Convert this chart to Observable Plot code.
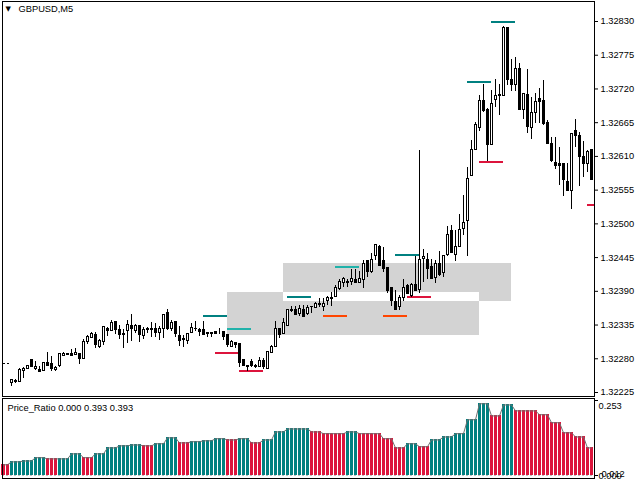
<!DOCTYPE html>
<html>
<head>
<meta charset="utf-8">
<script src="https://cdn.jsdelivr.net/npm/d3@7"></script>
<script src="https://cdn.jsdelivr.net/npm/@observablehq/plot@0.6"></script>
<style>
html,body{margin:0;padding:0;background:#fff;}
svg{display:block;}
</style>
</head>
<body>
<div id="chart"></div>
<script>
// Prices are given in points (1e-5) above 1.32000
const priceBase = 1.32;
const highs = [246,246,264,266,269,278,275,267,273,290,284,267,288,290,289,295,296,289,311,318,323,323,311,331,331,342,341,334,327,342,352,336,335,331,331,339,337,333,352,360,342,341,333,318,321,338,340,330,341,323,323,325,330,325,320,310,307,304,278,268,279,271,282,280,291,302,341,329,345,361,365,365,367,367,367,365,371,378,378,381,388,400,409,413,410,425,425,422,440,440,451,466,465,461,428,397,391,383,409,401,402,446,620,458,451,442,441,455,449,496,498,489,515,546,592,636,665,709,727,688,717,735,727,822,819,768,772,761,712,752,706,712,720,734,668,641,641,625,598,598,647,671,649,634,620,621];
const lows = [234,240,242,248,263,267,261,257,260,267,260,259,265,284,285,284,285,271,279,303,313,296,296,302,316,326,320,311,297,305,308,321,306,312,322,314,314,309,313,326,325,314,300,299,303,321,325,317,318,315,314,319,320,310,298,298,297,266,268,260,265,264,266,262,263,289,299,313,320,333,355,351,349,348,351,354,362,364,357,367,366,380,391,396,396,399,404,402,395,413,419,441,430,421,387,365,359,358,373,385,380,391,386,405,410,410,403,414,413,447,452,439,462,481,447,578,620,651,682,602,628,690,677,708,726,716,716,686,670,647,638,663,663,661,629,600,589,562,545,554,523,625,561,575,583,571];
const opens = [240,242,242,260,263,278,263,261,260,273,271,261,268,285,286,288,286,288,279,307,314,319,300,307,329,326,340,327,321,325,334,325,334,317,329,329,329,322,328,354,329,340,317,312,309,322,328,327,327,322,322,323,321,323,318,299,305,304,278,268,274,269,267,277,263,289,299,328,320,334,360,360,353,360,353,365,363,370,364,374,379,380,393,403,406,405,409,404,409,440,421,448,463,440,428,396,373,364,379,398,382,401,392,442,441,429,411,435,420,449,489,449,462,492,505,578,620,657,701,686,629,702,708,708,819,734,726,752,685,710,657,680,703,701,665,631,600,597,598,569,553,651,644,609,597,620];
const closes = [246,243,261,264,269,267,267,258,273,269,263,265,288,287,287,285,290,279,308,315,321,302,309,331,325,339,327,318,318,335,328,333,318,327,327,327,322,329,352,328,339,320,309,311,321,330,329,323,318,321,321,321,321,316,302,308,302,273,268,266,269,266,277,267,291,299,329,318,339,360,358,351,361,348,363,364,370,367,370,379,377,396,405,410,403,410,404,410,435,421,441,465,432,426,390,375,359,379,396,385,401,391,441,446,427,410,435,417,448,482,452,463,490,502,573,621,662,701,684,628,696,709,710,819,734,726,752,686,712,658,680,699,699,663,631,602,594,594,571,554,647,643,609,597,618,572];

const priceTicks = [1.32225,1.3228,1.32335,1.3239,1.32445,1.325,1.32555,1.3261,1.32665,1.3272,1.32775,1.3283];

// Grey zones: bar index range and price range (points)
const zoneStart = [54,68,68,117];
const zoneEnd = [68,117,117,125];
const zoneTop = [388,435,373,435];
const zoneBottom = [318,388,318,373];

// Short horizontal levels
const levelStart = [48,69,96,114,120,54,81,51,57,99,117,144,78,93];
const levelEnd = [54,75,102,120,126,60,87,57,63,105,123,146,84,99];
const levelPrice = [349,380,450,731,830,329,429,289,260,380,601,530,349,349];
const levelColor = ["#008080","#008080","#008080","#008080","#008080","#20B2AA","#20B2AA","#DC143C","#DC143C","#DC143C","#DC143C","#DC143C","#FF4500","#FF4500"];

// Indicator: one value per bar, bars -2 .. 145
const ratioValues = [0.036,0.036,
0.046,0.046,0.046,0.049,0.049,0.049,0.060,0.060,0.060,0.056,0.056,0.056,0.056,0.056,0.056,0.073,0.073,0.073,
0.060,0.060,0.060,0.073,0.073,0.073,0.093,0.093,0.093,0.100,0.100,0.100,0.103,0.103,0.103,0.100,0.100,0.100,
0.107,0.107,0.107,0.127,0.127,0.127,0.110,0.110,0.110,0.114,0.114,0.114,0.117,0.117,0.117,0.124,0.124,0.124,
0.120,0.120,0.120,0.124,0.124,0.124,0.110,0.110,0.110,0.120,0.120,0.120,0.147,0.147,0.147,
0.157,0.157,0.157,0.157,0.157,0.157,0.147,0.147,0.147,
0.141,0.141,0.141,0.141,0.141,0.141,0.147,0.147,0.147,0.141,0.141,0.141,0.141,0.141,0.141,
0.124,0.124,0.124,0.093,0.093,0.093,0.107,0.107,0.107,0.097,0.097,0.097,0.120,0.120,0.120,
0.130,0.130,0.130,0.141,0.141,0.141,0.188,0.188,0.188,0.242,0.242,0.242,0.201,0.201,0.201,0.238,0.238,0.238,
0.218,0.218,0.218,0.218,0.218,0.218,0.205,0.205,0.205,0.178,0.178,0.178,0.144,0.144,0.144,0.130,0.130,0.130,0.093,0.093];
const ratioRuns = [[2,"d"],[3,"u"],[3,"u"],[3,"u"],[3,"d"],[3,"u"],[3,"u"],[3,"d"],[3,"u"],[3,"u"],[3,"u"],[3,"u"],[3,"d"],[3,"u"],[3,"u"],[3,"d"],[3,"u"],[3,"u"],[3,"u"],[3,"d"],[3,"u"],[3,"d"],[3,"u"],[3,"u"],[6,"u"],[3,"d"],[6,"d"],[3,"u"],[6,"d"],[3,"d"],[3,"d"],[3,"u"],[3,"d"],[3,"u"],[3,"u"],[3,"u"],[3,"u"],[3,"u"],[3,"d"],[3,"u"],[6,"d"],[3,"d"],[3,"d"],[3,"d"],[3,"d"],[2,"d"]];
const ratioTicks = [0,0.253];
const ratioTopLabel = 0.253;
const ratioLowLabel = 0.012;
const ratioZeroLabel = 0;

const font = "'Liberation Sans', sans-serif";
const fs = 9.3;
const ink = "#000";
const xDomain = [-2.25, 145.75];
const toPrice = p => priceBase + p * 1e-5;

const candles = d3.range(highs.length).map(i => ({
  i, h: toPrice(highs[i]), l: toPrice(lows[i]), o: toPrice(opens[i]), c: toPrice(closes[i]),
  top: toPrice(Math.max(opens[i], closes[i])), bot: toPrice(Math.min(opens[i], closes[i])),
  up: closes[i] >= opens[i]
}));
const zones = zoneStart.map((s, k) => ({x1: s, x2: zoneEnd[k], y1: toPrice(zoneBottom[k]), y2: toPrice(zoneTop[k])}));
const levels = levelStart.map((s, k) => ({x1: s, x2: levelEnd[k], y: toPrice(levelPrice[k]), color: levelColor[k]}));
const ratioFlags = ratioRuns.flatMap(([n, f]) => Array(n).fill(f));
const ratio = ratioValues.map((v, k) => ({i: k - 2, v, color: ratioFlags[k] === "u" ? "#008080" : "#DC143C"}));

const main = Plot.plot({
  width: 640, height: 398,
  marginLeft: 2, marginRight: 46, marginTop: 1, marginBottom: 2,
  style: {fontFamily: font, fontSize: fs + "px", background: "#fff", color: "#000"},
  x: {domain: xDomain, axis: null},
  y: {domain: [1.32225, 1.3283], range: [392, 21], axis: null},
  marks: [
    Plot.rect(zones, {x1: "x1", x2: "x2", y1: "y1", y2: "y2", fill: "#D3D3D3", shapeRendering: "crispEdges"}),
    Plot.ruleY(levels, {y: "y", x1: "x1", x2: "x2", stroke: "color", strokeWidth: 2, clip: true, shapeRendering: "crispEdges"}),
    Plot.ruleX(candles, {x: "i", y1: "l", y2: "h", stroke: "#000", strokeWidth: 1, shapeRendering: "crispEdges"}),
    Plot.rect(candles, {x1: d => d.i - 0.25, x2: d => d.i + 0.25, y1: "bot", y2: "top", fill: d => d.up ? "#fff" : "#000", stroke: "#000", strokeWidth: 1, shapeRendering: "crispEdges"}),
    Plot.ruleY([toPrice(273)], {x1: -2.2, x2: -0.6, stroke: "#000", strokeWidth: 1, strokeDasharray: "3,2", shapeRendering: "crispEdges"}),
    Plot.text(["▼"], {frameAnchor: "top-left", dx: 3, dy: 5, fontSize: 7, fill: "#000", fontFamily: "'DejaVu Sans'"}),
    Plot.text(["GBPUSD,M5"], {frameAnchor: "top-left", dx: 16, dy: 4, fontSize: fs, fill: ink}),
    Plot.axisY(priceTicks, {anchor: "right", tickSize: 3, tickPadding: 3, tickFormat: d => d.toFixed(5), label: null, stroke: "#000", fill: ink, fontSize: fs}),
    Plot.frame({stroke: "#000"})
  ]
});

const labelAt = (value, dx, dy) => Plot.text([value], {
  x: () => xDomain[1], y: d => d, text: d => d.toFixed(3),
  textAnchor: "start", dx, dy, fontSize: fs, fill: ink
});

const sub = Plot.plot({
  width: 640, height: 82,
  marginLeft: 2, marginRight: 46, marginTop: 0, marginBottom: 2,
  style: {fontFamily: font, fontSize: fs + "px", background: "#fff", color: "#000"},
  x: {domain: xDomain, axis: null},
  y: {domain: [0, 0.253], range: [77, 2], axis: null},
  marks: [
    Plot.rect(ratio, {x1: d => d.i - 0.375, x2: d => d.i + 0.375, y1: 0, y2: "v", fill: "color", shapeRendering: "crispEdges"}),
    Plot.line(ratio, {x: "i", y: "v", stroke: "#707070", strokeWidth: 1}),
    Plot.ruleY([0], {stroke: "#C0C0C0", strokeDasharray: "2,2", shapeRendering: "crispEdges"}),
    Plot.text(["Price_Ratio 0.000 0.393 0.393"], {frameAnchor: "top-left", dx: 5, dy: 6, fontSize: fs, fill: ink}),
    Plot.axisY(ratioTicks, {anchor: "right", tickSize: 3, tickFormat: () => "", label: null, stroke: "#000"}),
    labelAt(ratioTopLabel, 4, 6),
    labelAt(ratioLowLabel, 7, 2),
    labelAt(ratioZeroLabel, 4, 1),
    Plot.frame({stroke: "#000"})
  ]
});

document.getElementById("chart").append(main, sub);
</script>
</body>
</html>
